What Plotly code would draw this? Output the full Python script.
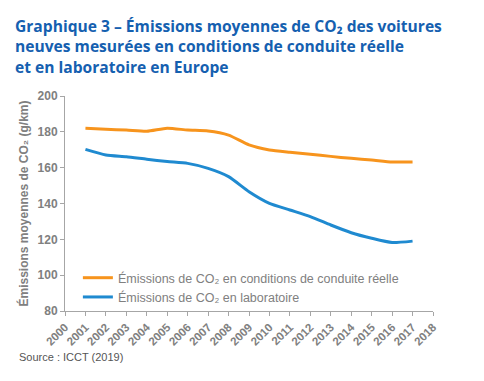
import plotly.graph_objects as go

years = list(range(2001, 2018))
reel = [182, 181.4, 181, 180.3, 182, 181, 180.5, 178.2, 172.7, 169.9, 168.6, 167.5, 166.3, 165.2, 164.3, 163.2, 163.2]
labo = [170.2, 167.1, 166.1, 164.7, 163.4, 162.4, 159.6, 155, 146.6, 140.1, 136.4, 132.7, 128, 123.7, 120.6, 118.2, 119]
x_ticks = list(range(2000, 2019))
y_ticks = [80, 100, 120, 140, 160, 180, 200]

gray = "#808080"
fnt = "Liberation Sans, Arial, sans-serif"
fig = go.Figure()
fig.add_trace(go.Scatter(x=years, y=reel, mode="lines", line=dict(color="#f7941d", width=3, shape="spline", smoothing=0.6),
                         name="Émissions de CO₂ en conditions de conduite réelle"))
fig.add_trace(go.Scatter(x=years, y=labo, mode="lines", line=dict(color="#1f8ad0", width=3, shape="spline", smoothing=0.6),
                         name="Émissions de CO₂ en laboratoire"))

fig.update_layout(
    width=484, height=381,
    margin=dict(l=65, r=51, t=96, b=70, autoexpand=False),
    paper_bgcolor="white", plot_bgcolor="white",
    font=dict(family=fnt, color=gray),
    showlegend=True,
    legend=dict(x=0.035, y=-0.005, xanchor="left", yanchor="bottom", bgcolor="rgba(0,0,0,0)",
                font=dict(size=12.5, color=gray), tracegroupgap=0, itemwidth=30),
    xaxis=dict(range=[2000, 2018], tickvals=x_ticks, ticktext=[str(v) for v in x_ticks], tickangle=-45,
               showgrid=False, zeroline=False, showline=True, linecolor="#a6a6a6", linewidth=1,
               ticks="outside", ticklen=4, tickcolor="#a6a6a6", automargin=False,
               tickfont=dict(size=11.5, color=gray, family=fnt, weight="bold")),
    yaxis=dict(range=[80, 200], tickvals=y_ticks, showgrid=False, zeroline=False, showline=True,
               linecolor="#a6a6a6", linewidth=1, ticks="outside", ticklen=4, tickcolor="#a6a6a6", automargin=False,
               tickfont=dict(size=12, color=gray, family=fnt, weight="bold"),
               title=dict(text="Émissions moyennes de CO₂ (g/km)", standoff=6,
                          font=dict(size=12, color=gray, family=fnt, weight="bold"))),
)

fig.add_annotation(xref="paper", yref="paper", x=-0.14, y=1.0, yshift=83, xanchor="left", yanchor="top",
                   align="left", showarrow=False,
                   text="Graphique 3 – Émissions moyennes de CO₂ des voitures<br>neuves mesurées en conditions de conduite réelle<br>et en laboratoire en Europe",
                   font=dict(family="Open Sans, sans-serif", size=15.6, color="#1560b0", weight="bold"))
fig.add_annotation(xref="paper", yref="paper", x=-0.13, y=0, yshift=-38, xanchor="left", yanchor="top",
                   showarrow=False, text="Source : ICCT (2019)",
                   font=dict(family=fnt, size=11, color="#555555"))

fig.write_html("out.html", config={"displayModeBar": False},
               post_script="document.body.style.margin='0';document.body.style.overflow='hidden';")
